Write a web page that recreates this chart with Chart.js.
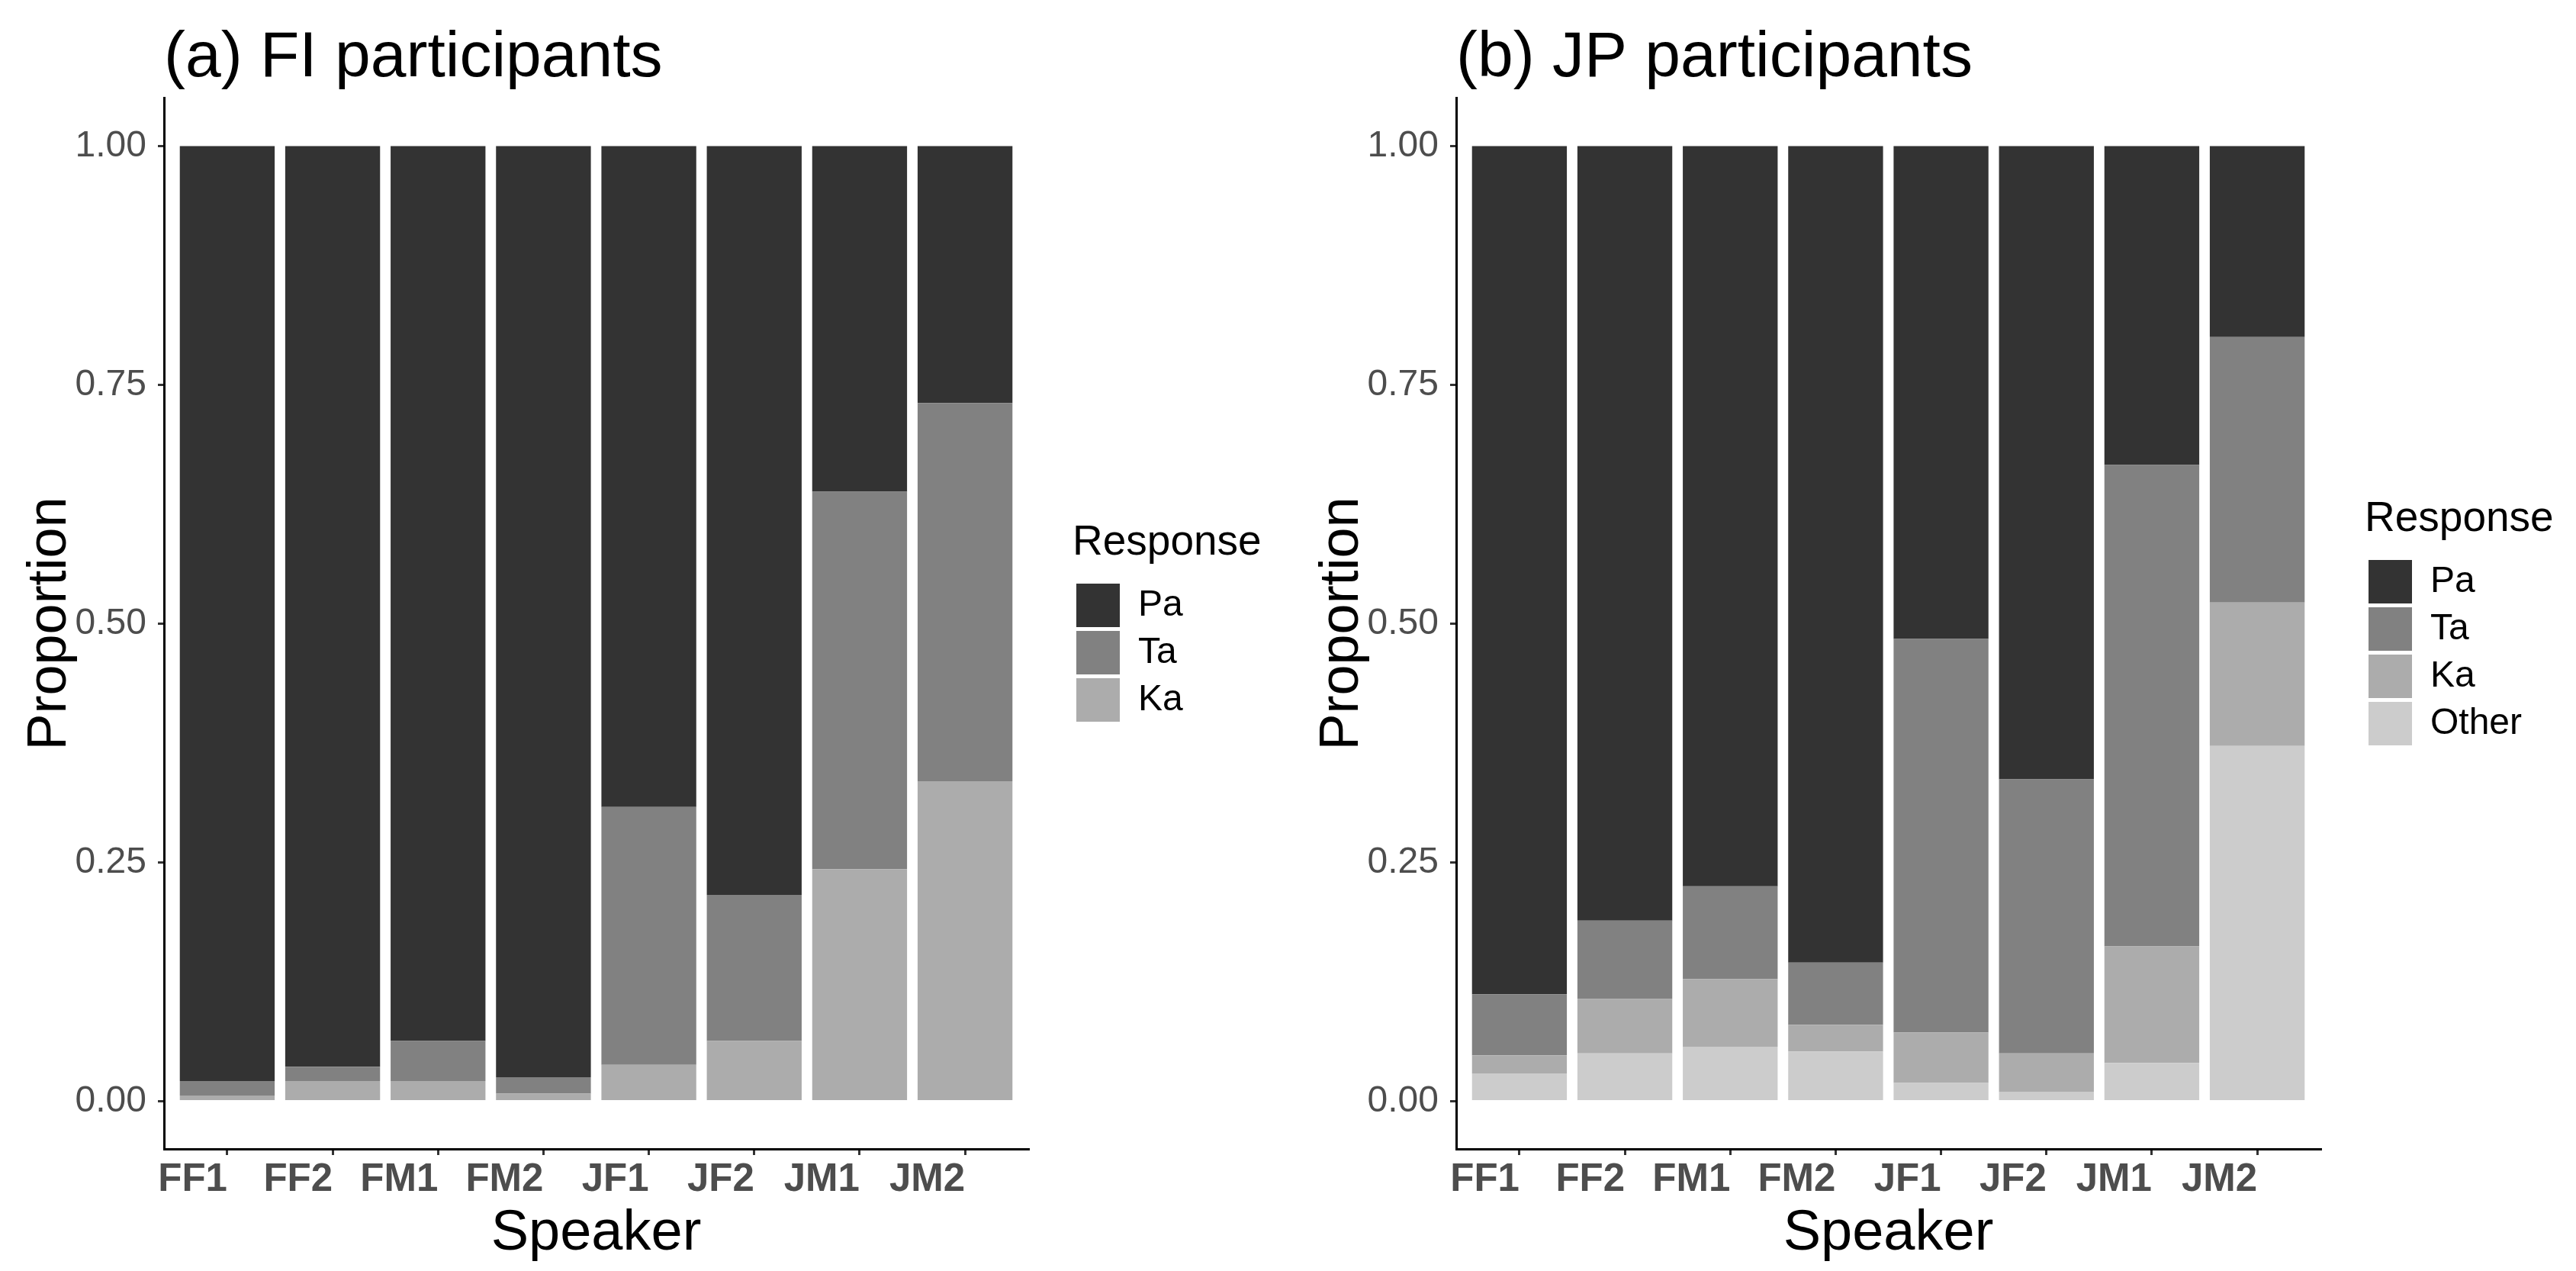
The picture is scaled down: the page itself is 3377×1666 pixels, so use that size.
<!DOCTYPE html>
<html lang="en">
<head>
  <meta charset="UTF-8">
  <title>Responses by speaker</title>
  <script src="https://cdn.jsdelivr.net/npm/chart.js"></script>
  <style>
    body {
      margin: 0;
      background-color: #fff;
    }

    #wrap {
      position: relative;
      width: 3377px;
      height: 1666px;
    }

    .panel {
      position: absolute;
      top: 0;
      height: 1666px;
    }

    #panelA { left: 0; width: 1690px; }
    #panelB { left: 1694px; width: 1683px; }
  </style>
</head>
<body>

<div id="wrap">
  <div class="panel" id="panelA"><canvas id="chartA"></canvas></div>
  <div class="panel" id="panelB"><canvas id="chartB"></canvas></div>
</div>

<script>
const speakers = ['FF1', 'FF2', 'FM1', 'FM2', 'JF1', 'JF2', 'JM1', 'JM2'];
const yTicks = [0, 0.25, 0.5, 0.75, 1];

// (a) FI participants
const fiPa = [0.979, 0.964, 0.937, 0.975, 0.692, 0.784, 0.362, 0.269];
const fiTa = [0.015, 0.015, 0.042, 0.017, 0.270, 0.153, 0.395, 0.396];
const fiKa = [0.006, 0.021, 0.021, 0.008, 0.038, 0.063, 0.243, 0.335];

// (b) JP participants
const jpPa = [0.888, 0.811, 0.775, 0.855, 0.516, 0.663, 0.334, 0.200];
const jpTa = [0.064, 0.082, 0.097, 0.065, 0.412, 0.287, 0.504, 0.278];
const jpKa = [0.019, 0.057, 0.071, 0.028, 0.053, 0.040, 0.122, 0.150];
const jpOther = [0.029, 0.050, 0.057, 0.052, 0.019, 0.010, 0.040, 0.372];

const colors = { Pa: '#333333', Ta: '#818181', Ka: '#acacac', Other: '#cccccc' };

Chart.defaults.font.family = "'Liberation Sans', Arial, sans-serif";

// legend keeps a fixed 130px slot in the layout; after layout it is moved
// a little away from the plot and widened so nothing gets clipped
const legendGap = {
  id: 'legendGap',
  afterLayout(chart) {
    const lg = chart.legend;
    lg.left = chart.chartArea.right + 58;
    lg.right = chart.width;
    lg.width = lg.right - lg.left;
  }
};

function toPoints(values) {
  return values.map((v, i) => ({ x: i + 1, y: v }));
}

// series come top to bottom (legend order); chart.js stacks the first dataset at the bottom
function makeChart(id, title, series, padRight) {
  const datasets = series.slice().reverse().map(s => ({
    label: s.label,
    data: toPoints(s.values),
    backgroundColor: colors[s.label],
    borderWidth: 0,
    barPercentage: 0.9,
    categoryPercentage: 1
  }));

  new Chart(document.getElementById(id), {
    type: 'bar',
    data: { datasets },
    plugins: [legendGap],
    options: {
      responsive: true,
      maintainAspectRatio: false,
      animation: false,
      layout: { padding: { left: 0, right: padRight, top: 0, bottom: 0 } },
      plugins: {
        title: {
          display: true,
          text: title,
          align: 'start',
          fullSize: false,
          color: '#000',
          font: { size: 84, weight: 'normal' },
          padding: { top: 26, bottom: 2 }
        },
        legend: {
          position: 'right',
          align: 'center',
          fullSize: false,
          reverse: true,
          maxWidth: 130,
          onClick: null,
          labels: {
            boxWidth: 57,
            boxHeight: 57,
            padding: 5,
            color: '#000',
            font: { size: 48 }
          },
          title: {
            display: true,
            text: 'Response',
            position: 'start',
            color: '#000',
            font: { size: 55 },
            padding: { top: 0, bottom: 10 }
          }
        },
        tooltip: { enabled: false }
      },
      scales: {
        x: {
          type: 'linear',
          min: 0.4,
          max: 8.6,
          stacked: true,
          offset: false,
          afterBuildTicks: axis => { axis.ticks = speakers.map((s, i) => ({ value: i + 1 })); },
          afterFit: axis => { axis.height = 160; },
          ticks: {
            callback: (v, i) => speakers[i],
            align: 'end',
            autoSkip: false,
            maxRotation: 0,
            padding: 2,
            color: '#4d4d4d',
            font: { size: 51, weight: 'bold' }
          },
          grid: { offset: false, drawOnChartArea: false, tickLength: 8, color: '#333333', lineWidth: 3 },
          border: { color: '#000', width: 3 },
          title: {
            display: true,
            text: 'Speaker',
            color: '#000',
            font: { size: 74 },
            padding: { top: 0, bottom: 4 }
          }
        },
        y: {
          type: 'linear',
          min: -0.05,
          max: 1.05,
          stacked: true,
          afterBuildTicks: axis => { axis.ticks = yTicks.map(v => ({ value: v })); },
          afterFit: axis => { axis.width = 215; },
          ticks: {
            callback: v => v.toFixed(2),
            padding: 15,
            color: '#4d4d4d',
            font: { size: 48 }
          },
          grid: { drawOnChartArea: false, tickLength: 8, color: '#333333', lineWidth: 3 },
          border: { color: '#000', width: 3 },
          title: {
            display: true,
            text: 'Proportion',
            color: '#000',
            font: { size: 72 },
            padding: { top: 23, bottom: 0 }
          }
        }
      }
    }
  });
}

// right padding = canvas width - plot right edge (1348) - legend slot (130)
makeChart('chartA', '(a) FI participants', [
  { label: 'Pa', values: fiPa },
  { label: 'Ta', values: fiTa },
  { label: 'Ka', values: fiKa }
], 212);

makeChart('chartB', '(b) JP participants', [
  { label: 'Pa', values: jpPa },
  { label: 'Ta', values: jpTa },
  { label: 'Ka', values: jpKa },
  { label: 'Other', values: jpOther }
], 205);
</script>
</body>
</html>
